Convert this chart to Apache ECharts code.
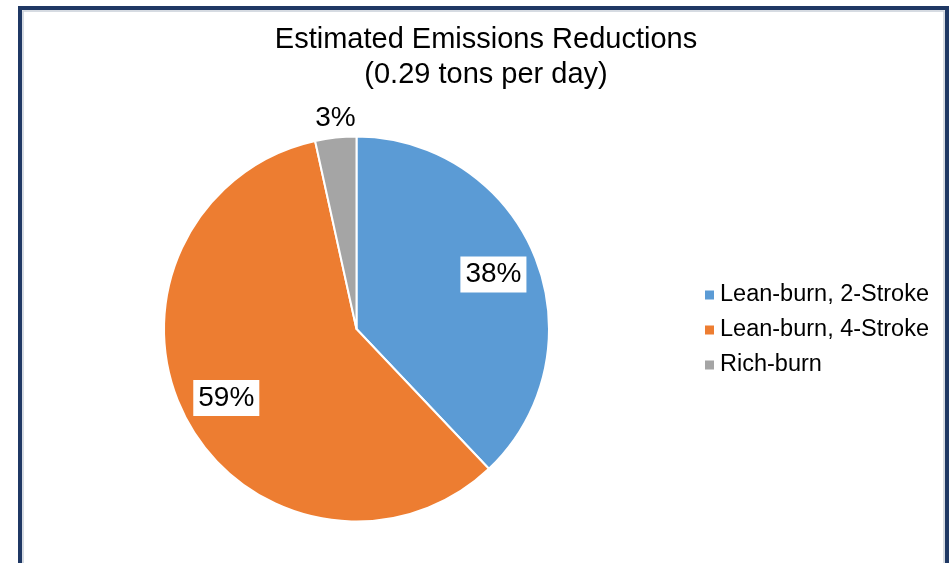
<!DOCTYPE html>
<html>
<head>
<meta charset="utf-8">
<script src="https://cdn.jsdelivr.net/npm/echarts@6/dist/echarts.min.js"></script>
<style>
html,body{margin:0;padding:0;background:#fff;}
#chart{width:951px;height:563px;}
</style>
</head>
<body>
<div id="chart"></div>
<script>
const categories = ['Lean-burn, 2-Stroke', 'Lean-burn, 4-Stroke', 'Rich-burn'];
const values = [0.11, 0.17, 0.01];
const colors = ['#5b9bd5', '#ed7d31', '#a5a5a5'];
const titleLines = ['Estimated Emissions Reductions', '(0.29 tons per day)'];

const FONT = '"Liberation Sans", Arial, sans-serif';
const cx = 356.5, cy = 329, R = 192.5;

const pieData = categories.map((c, i) => ({ name: c, value: values[i], itemStyle: { color: colors[i] } }));
const labelData = categories.map((c, i) => {
  const d = { name: c, value: values[i] };
  if (i === 2) {
    d.label = { position: 'outside', backgroundColor: 'transparent', padding: 0, distanceToLabelLine: 0 };
    d.labelLine = { show: false, length: 21, length2: 0 };
  }
  return d;
});

const chart = echarts.init(document.getElementById('chart'));
chart.setOption({
  backgroundColor: '#ffffff',
  animation: false,
  title: {
    text: titleLines.join('\n'),
    left: 481,
    top: 17,
    textAlign: 'center',
    textStyle: { fontFamily: FONT, fontSize: 29, fontWeight: 'normal', color: '#000', lineHeight: 35 }
  },
  legend: {
    orient: 'vertical',
    left: 698,
    top: 278,
    itemWidth: 11,
    itemHeight: 11,
    itemGap: 11,
    icon: 'rect',
    data: categories,
    textStyle: { fontFamily: FONT, fontSize: 23.5, color: '#000' },
    selectedMode: false
  },
  graphic: [
    { type: 'rect', shape: { x: 23, y: 11, width: 921, height: 600 }, style: { fill: null, stroke: '#c9cfd9', lineWidth: 1.5 }, silent: true, z: 0 },
    { type: 'rect', shape: { x: 20, y: 8, width: 927, height: 600 }, style: { fill: null, stroke: '#1f3864', lineWidth: 4 }, silent: true, z: 0 }
  ],
  series: [
    {
      type: 'pie',
      center: [cx, cy],
      radius: [0, R],
      startAngle: 90,
      clockwise: true,
      silent: true,
      data: pieData,
      label: { show: false },
      labelLine: { show: false },
      itemStyle: { borderColor: '#ffffff', borderWidth: 2 },
      emphasis: { disabled: true }
    },
    {
      type: 'pie',
      center: [cx, cy],
      radius: [R * 0.5, R],
      startAngle: 90,
      clockwise: true,
      silent: true,
      data: labelData,
      itemStyle: { color: 'rgba(0,0,0,0)' },
      emphasis: { disabled: true },
      labelLine: { show: false },
      label: {
        show: true,
        position: 'inside',
        fontFamily: FONT,
        fontSize: 28,
        color: '#000',
        backgroundColor: '#ffffff',
        padding: [5, 5, 3, 5],
        formatter: p => Math.round(p.percent) + '%'
      },
      labelLayout: p => (p.dataIndex === 2 ? { align: 'center', verticalAlign: 'middle', dy: 2, dx: 2 } : {})
    }
  ]
});
</script>
</body>
</html>
